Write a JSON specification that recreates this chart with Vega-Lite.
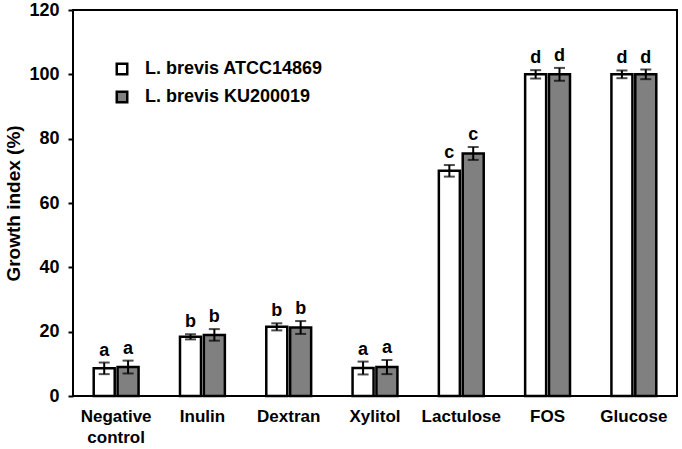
{
  "$schema": "https://vega.github.io/schema/vega-lite/v6.json",
  "width": 604,
  "height": 386,
  "autosize": {"type": "none"},
  "padding": {"left": 73, "top": 10, "right": 5, "bottom": 53},
  "config": {
    "font": "Liberation Sans",
    "view": {"stroke": "#000", "strokeWidth": 2},
    "axis": {"grid": false, "domain": false, "labelFontWeight": "bold", "labelColor": "#000", "titleColor": "#000", "tickColor": "#000", "tickWidth": 2}
  },
  "data": {
    "values": [
      {"sugar": "Negative control", "strain": "L. brevis ATCC14869", "mean": 8.6, "err": 1.8, "letter": "a"},
      {"sugar": "Negative control", "strain": "L. brevis KU200019", "mean": 9.0, "err": 2.0, "letter": "a"},
      {"sugar": "Inulin", "strain": "L. brevis ATCC14869", "mean": 18.4, "err": 0.8, "letter": "b"},
      {"sugar": "Inulin", "strain": "L. brevis KU200019", "mean": 19.0, "err": 1.8, "letter": "b"},
      {"sugar": "Dextran", "strain": "L. brevis ATCC14869", "mean": 21.5, "err": 1.1, "letter": "b"},
      {"sugar": "Dextran", "strain": "L. brevis KU200019", "mean": 21.3, "err": 2.0, "letter": "b"},
      {"sugar": "Xylitol", "strain": "L. brevis ATCC14869", "mean": 8.7, "err": 2.0, "letter": "a"},
      {"sugar": "Xylitol", "strain": "L. brevis KU200019", "mean": 9.0, "err": 2.2, "letter": "a"},
      {"sugar": "Lactulose", "strain": "L. brevis ATCC14869", "mean": 70.0, "err": 1.8, "letter": "c"},
      {"sugar": "Lactulose", "strain": "L. brevis KU200019", "mean": 75.4, "err": 2.0, "letter": "c"},
      {"sugar": "FOS", "strain": "L. brevis ATCC14869", "mean": 100.0, "err": 1.3, "letter": "d"},
      {"sugar": "FOS", "strain": "L. brevis KU200019", "mean": 100.0, "err": 2.0, "letter": "d"},
      {"sugar": "Glucose", "strain": "L. brevis ATCC14869", "mean": 100.0, "err": 1.2, "letter": "d"},
      {"sugar": "Glucose", "strain": "L. brevis KU200019", "mean": 100.0, "err": 1.5, "letter": "d"}
    ]
  },
  "transform": [
    {"calculate": "datum.mean - datum.err", "as": "lo"},
    {"calculate": "datum.mean + datum.err", "as": "hi"}
  ],
  "encoding": {
    "x": {
      "field": "sugar", "type": "nominal", "sort": null,
      "scale": {"paddingInner": 0.48, "paddingOuter": 0.24},
      "axis": {"title": null, "labelAngle": 0, "ticks": false, "labelPadding": 12, "labelLineHeight": 21, "labelFontSize": 17, "labelOverlap": false,
               "labelExpr": "datum.label == 'Negative control' ? ['Negative', 'control'] : datum.label"}
    },
    "xOffset": {"field": "strain", "type": "nominal", "scale": {"paddingInner": 0.12}}
  },
  "layer": [
    {
      "mark": {"type": "bar", "stroke": "#000", "strokeWidth": 2.5},
      "encoding": {
        "y": {"field": "mean", "type": "quantitative",
              "scale": {"domain": [0, 120]},
              "axis": {"title": "Growth index (%)", "titleFontSize": 19, "titleFontWeight": "bold", "titlePadding": 5, "values": [0, 20, 40, 60, 80, 100, 120], "labelOverlap": false, "labelFontSize": 18, "tickSize": 5, "labelPadding": 9}},
        "fill": {"field": "strain", "type": "nominal",
                 "scale": {"range": ["#ffffff", "#808080"]},
                 "legend": {"title": null, "orient": "none", "legendX": 40, "legendY": 50, "symbolType": "square", "symbolSize": 110, "symbolStrokeColor": "#000", "symbolStrokeWidth": 2.5, "labelFontSize": 18, "labelFontWeight": "bold", "labelColor": "#000", "labelLimit": 400, "rowPadding": 6, "labelOffset": 14}}
      }
    },
    {
      "mark": {"type": "rule", "stroke": "#000", "strokeWidth": 2},
      "encoding": {"y": {"field": "lo", "type": "quantitative"}, "y2": {"field": "hi"}}
    },
    {
      "mark": {"type": "tick", "color": "#000", "size": 11, "thickness": 2},
      "encoding": {"y": {"field": "lo", "type": "quantitative"}}
    },
    {
      "mark": {"type": "tick", "color": "#000", "size": 11, "thickness": 2},
      "encoding": {"y": {"field": "hi", "type": "quantitative"}}
    },
    {
      "mark": {"type": "text", "fontSize": 18, "fontWeight": "bold", "baseline": "alphabetic", "dy": -7, "color": "#000"},
      "encoding": {"y": {"field": "hi", "type": "quantitative"}, "text": {"field": "letter"}}
    }
  ]
}
